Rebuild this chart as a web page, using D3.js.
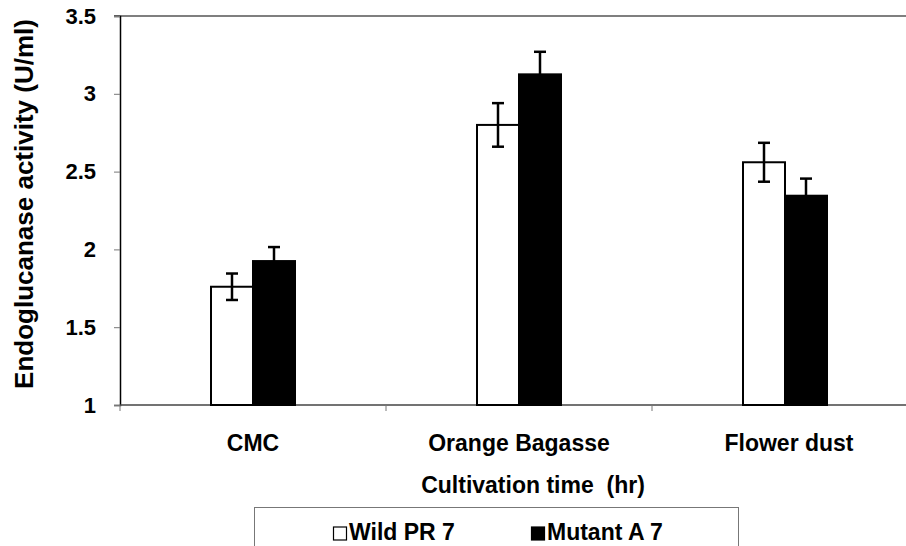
<!DOCTYPE html>
<html>
<head>
<meta charset="utf-8">
<script src="https://cdn.jsdelivr.net/npm/d3@7"></script>
<style>
  body { margin: 0; background: #fff; }
  text { font-family: "Liberation Sans", Arial, sans-serif; font-weight: bold; fill: #000; white-space: pre; }
</style>
</head>
<body>
<div id="chart"></div>
<script>
// data
const categories = ["CMC", "Orange Bagasse", "Flower dust"];
const seriesNames = ["Wild PR 7", "Mutant A 7"];
const wildValues = [1.76, 2.80, 2.56];
const wildErrors = [0.085, 0.14, 0.125];
const mutantValues = [1.925, 3.125, 2.345];
const mutantErrors = [0.09, 0.145, 0.11];
const yTicks = [1, 1.5, 2, 2.5, 3, 3.5];

const width = 906, height = 546;
const margin = { top: 16, left: 120, bottom: 141 };
const plotRight = 918; // plot runs past the window edge like the original

const svg = d3.select("#chart").append("svg")
    .attr("width", width)
    .attr("height", height);

const x = d3.scaleBand()
    .domain(categories)
    .range([margin.left, plotRight]);

const sub = d3.scaleBand()
    .domain(seriesNames)
    .range([0, 84]);

const y = d3.scaleLinear()
    .domain([1, 3.5])
    .range([height - margin.bottom, margin.top]);

// top border line at 3.5
svg.append("line")
    .attr("x1", margin.left - 6).attr("x2", width)
    .attr("y1", y(3.5)).attr("y2", y(3.5))
    .attr("stroke", "#555").attr("stroke-width", 1.5);

// y axis
const yAxis = svg.append("g")
    .attr("transform", "translate(" + margin.left + ",0)")
    .call(d3.axisLeft(y).tickValues(yTicks).tickSize(6).tickPadding(18)
        .tickFormat(d => d3.format("")(d)));
yAxis.select(".domain").attr("stroke", "#000").attr("stroke-width", 1.5);
yAxis.selectAll(".tick line").attr("stroke", "#777");
yAxis.selectAll("text")
    .style("font-size", "22px")
    .style("font-family", "Liberation Sans, Arial")
    .style("font-weight", "bold");

// x axis: ticks at category boundaries
const xBase = y(1);
svg.append("line")
    .attr("x1", margin.left).attr("x2", width)
    .attr("y1", xBase).attr("y2", xBase)
    .attr("stroke", "#444").attr("stroke-width", 1.5);
svg.selectAll(".xtick")
    .data(categories)
    .enter().append("line")
    .attr("x1", d => x(d)).attr("x2", d => x(d))
    .attr("y1", xBase).attr("y2", xBase + 6)
    .attr("stroke", "#777");

svg.selectAll(".xlabel")
    .data(categories)
    .enter().append("text")
    .attr("x", d => x(d) + x.bandwidth() / 2 + (d === "Flower dust" ? 4 : 0))
    .attr("y", xBase + 46)
    .attr("text-anchor", "middle")
    .style("font-size", "23px")
    .text(d => d);

// bars
const groups = [
    { name: seriesNames[0], values: wildValues, errors: wildErrors, fill: "#fff" },
    { name: seriesNames[1], values: mutantValues, errors: mutantErrors, fill: "#000" }
];

const rows = [];
groups.forEach(g => {
    categories.forEach((c, i) => {
        rows.push({ cat: c, series: g.name, value: g.values[i], err: g.errors[i], fill: g.fill });
    });
});

const groupOffset = (x.bandwidth() - sub.range()[1]) / 2;

svg.selectAll(".bar")
    .data(rows)
    .enter().append("rect")
    .attr("x", d => x(d.cat) + groupOffset + sub(d.series))
    .attr("y", d => y(d.value))
    .attr("width", sub.bandwidth())
    .attr("height", d => y(1) - y(d.value))
    .attr("fill", d => d.fill)
    .attr("stroke", "#000")
    .attr("stroke-width", 2);

// error bars
const cap = 6;
const eb = svg.selectAll(".err")
    .data(rows)
    .enter().append("g")
    .attr("stroke", "#000")
    .attr("stroke-width", 2.5);
const cx = d => x(d.cat) + groupOffset + sub(d.series) + sub.bandwidth() / 2;
eb.append("line")
    .attr("x1", cx).attr("x2", cx)
    .attr("y1", d => y(d.value + d.err)).attr("y2", d => y(d.value - d.err));
eb.append("line")
    .attr("x1", d => cx(d) - cap).attr("x2", d => cx(d) + cap)
    .attr("y1", d => y(d.value + d.err)).attr("y2", d => y(d.value + d.err));
eb.append("line")
    .attr("x1", d => cx(d) - cap).attr("x2", d => cx(d) + cap)
    .attr("y1", d => y(d.value - d.err)).attr("y2", d => y(d.value - d.err));

// axis titles
svg.append("text")
    .attr("x", 533)
    .attr("y", 493)
    .attr("text-anchor", "middle")
    .style("font-size", "23px")
    .text("Cultivation time  (hr)");

svg.append("text")
    .attr("transform", "translate(33,204) rotate(-90)")
    .attr("text-anchor", "middle")
    .style("font-size", "26px")
    .text("Endoglucanase activity (U/ml)");

// legend
const legend = svg.append("g");
legend.append("rect")
    .attr("x", 254.5).attr("y", 507.5)
    .attr("width", 484).attr("height", 60)
    .attr("fill", "none").attr("stroke", "#777").attr("stroke-width", 1);

const legX = [333, 531];
groups.forEach((g, i) => {
    legend.append("rect")
        .attr("x", legX[i] + 0.5).attr("y", 527)
        .attr("width", 13).attr("height", 13)
        .attr("fill", g.fill).attr("stroke", "#000").attr("stroke-width", 1.2);
    legend.append("text")
        .attr("x", legX[i] + 16)
        .attr("y", 540)
        .style("font-size", "23px")
        .text(g.name);
});
</script>
</body>
</html>
